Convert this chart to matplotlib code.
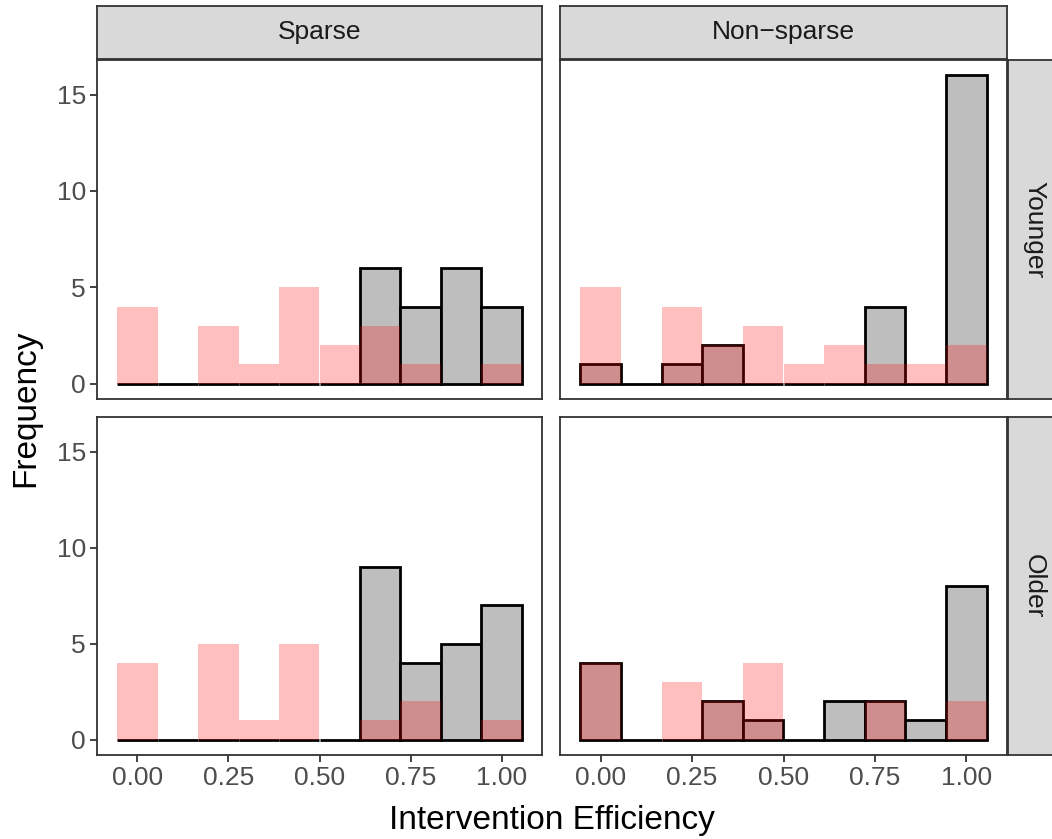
#!/usr/bin/env python3
"""
Faceted histograms of intervention efficiency:
columns = Sparse / Non-sparse, rows = Younger / Older.
Grey outlined bars = one group, translucent red = the other.
"""

import matplotlib
matplotlib.use('Agg')
import matplotlib.pyplot as plt
import numpy as np

plt.rcParams['font.family'] = ['Liberation Sans', 'DejaVu Sans']

W, H = 1052, 839

COL_LABELS = ['Sparse', 'Non\u2212sparse']
ROW_LABELS = ['Younger', 'Older']

# ten bins of width 1/9, centred on 0, 1/9, ..., 1
BIN_WIDTH = 1 / 9
BIN_CENTERS = np.arange(10) * BIN_WIDTH

# counts per bin
grey_sparse_younger = [0, 0, 0, 0, 0, 0, 6, 4, 6, 4]
red_sparse_younger = [4, 0, 3, 1, 5, 2, 3, 1, 0, 1]
grey_nonsparse_younger = [1, 0, 1, 2, 0, 0, 0, 4, 0, 16]
red_nonsparse_younger = [5, 0, 4, 2, 3, 1, 2, 1, 1, 2]
grey_sparse_older = [0, 0, 0, 0, 0, 0, 9, 4, 5, 7]
red_sparse_older = [4, 0, 5, 1, 5, 0, 1, 2, 0, 1]
grey_nonsparse_older = [4, 0, 0, 2, 1, 0, 2, 2, 1, 8]
red_nonsparse_older = [4, 0, 3, 2, 4, 0, 0, 2, 0, 2]

PANELS = {
    (0, 0): (grey_sparse_younger, red_sparse_younger),
    (0, 1): (grey_nonsparse_younger, red_nonsparse_younger),
    (1, 0): (grey_sparse_older, red_sparse_older),
    (1, 1): (grey_nonsparse_older, red_nonsparse_older),
}

X_TICKS = [0.0, 0.25, 0.5, 0.75, 1.0]
X_TICKLABELS = ['0.00', '0.25', '0.50', '0.75', '1.00']
Y_TICKS = [0, 5, 10, 15]

# panel boxes in pixels
COL_X = [(97, 542), (560, 1007)]
ROW_Y = [(60, 399), (417, 755)]
STRIP_TOP = (6, 59)
STRIP_RIGHT = (1008, 1060)

DARK = '#333333'
SMALL = 19
BIG = 24


def px_axes(fig, x0, y0, x1, y1):
    return fig.add_axes([x0 / W, 1 - y1 / H, (x1 - x0) / W, (y1 - y0) / H])


def style_box(ax):
    for s in ax.spines.values():
        s.set_color(DARK)
        s.set_linewidth(1.3)


def strip(fig, x0, y0, x1, y1, text, rotation=0):
    ax = px_axes(fig, x0, y0, x1, y1)
    ax.set_facecolor('#D9D9D9')
    ax.set_xticks([])
    ax.set_yticks([])
    style_box(ax)
    ax.text(0.5, 0.5, text, transform=ax.transAxes, ha='center',
            va='center', fontsize=SMALL, color='#1A1A1A', rotation=rotation)
    return ax


def main():
    fig = plt.figure(figsize=(W / 100, H / 100), dpi=100)

    for (r, c), (grey, red) in PANELS.items():
        x0, x1 = COL_X[c]
        y0, y1 = ROW_Y[r]
        ax = px_axes(fig, x0, y0, x1, y1)
        ax.bar(BIN_CENTERS, grey, width=BIN_WIDTH, color='#BEBEBE',
               edgecolor='black', linewidth=2.0, zorder=2)
        ax.bar(BIN_CENTERS, red, width=BIN_WIDTH, color='red',
               alpha=0.25, linewidth=0, zorder=3)
        ax.set_xlim(-0.1111, 1.1111)
        ax.set_ylim(-0.8, 16.8)
        style_box(ax)
        ax.tick_params(colors=DARK, width=1.3, length=5, pad=3,
                       labelcolor='#4D4D4D', labelsize=SMALL)
        ax.set_yticks(Y_TICKS)
        ax.set_xticks(X_TICKS)
        if c == 0:
            ax.set_yticklabels([str(v) for v in Y_TICKS])
        else:
            ax.set_yticklabels([])
            ax.tick_params(axis='y', length=0)
        if r == 1:
            ax.set_xticklabels(X_TICKLABELS)
        else:
            ax.set_xticklabels([])
            ax.tick_params(axis='x', length=0)

    for c, label in enumerate(COL_LABELS):
        strip(fig, COL_X[c][0], STRIP_TOP[0], COL_X[c][1], STRIP_TOP[1],
              label)
    for r, label in enumerate(ROW_LABELS):
        strip(fig, STRIP_RIGHT[0], ROW_Y[r][0], STRIP_RIGHT[1], ROW_Y[r][1],
              label, rotation=-90)

    fig.text(552 / W, 1 - 820 / H, 'Intervention Efficiency',
             ha='center', va='center', fontsize=BIG)
    fig.text(26 / W, 1 - 408 / H, 'Frequency', ha='center', va='center',
             rotation=90, fontsize=BIG)

    fig.savefig('out.png', dpi=100)
    plt.close(fig)


if __name__ == '__main__':
    main()
